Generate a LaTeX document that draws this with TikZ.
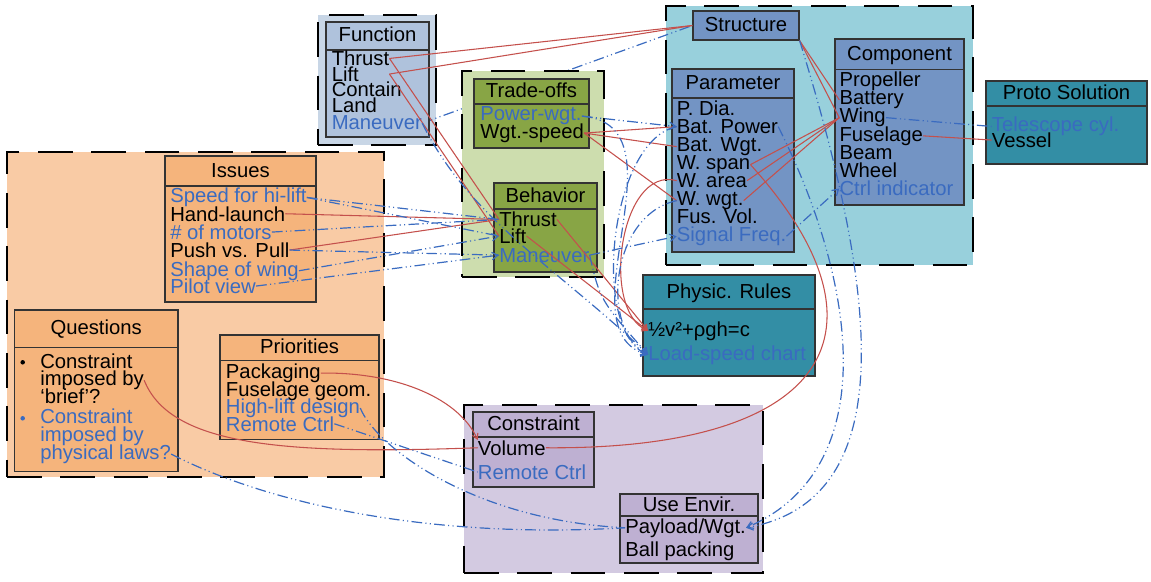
\documentclass[tikz,border=0pt]{standalone}
\usepackage{fontspec}
\setmainfont{Liberation Sans}
\usetikzlibrary{arrows.meta,fit}
\definecolor{orgBg}{HTML}{F9CBA5}
\definecolor{orgBox}{HTML}{F5B47C}
\definecolor{fnBg}{HTML}{C8D6E6}
\definecolor{fnBox}{HTML}{AFC2DC}
\definecolor{grBg}{HTML}{CDDDAE}
\definecolor{grBox}{HTML}{88A545}
\definecolor{cyBg}{HTML}{98D0DC}
\definecolor{prmBox}{HTML}{7394C4}
\definecolor{tealBox}{HTML}{338EA5}
\definecolor{lvBg}{HTML}{D3CAE1}
\definecolor{lvBox}{HTML}{BEB0D2}
\definecolor{txtBlue}{HTML}{3A6BC0}
\definecolor{relRed}{HTML}{C4504C}
\definecolor{depBlue}{HTML}{3A6BC0}
\definecolor{boxLine}{HTML}{333333}
\pgfdeclarelayer{groups}
\pgfdeclarelayer{under}
\pgfdeclarelayer{inner}
\pgfsetlayers{groups,under,inner,main}

% class box: name, x1, y1, x2, y2, header rule y, fill, title
\newcommand\classbox[8]{%
  \node[fit={(#2,#3) (#4,#5)}, inner sep=0pt, cbx, fill=#7] (#1) {};
  \draw[cbx] (#2,#6) -- (#4,#6);
  \node[ttl] (#1-t) at ({(#2+#4)/2},{(#3+#6)/2+6}) {#8};
}

\begin{document}
\begin{tikzpicture}[x=0.75pt,y=-0.75pt,
  every node/.style={font=\fontsize{15.2}{17}\selectfont},
  grp/.style={draw=black, line width=2.1pt, dash pattern=on 26pt off 14pt},
  cbx/.style={draw=boxLine, line width=0.9pt},
  ln/.style={anchor=base west, inner sep=0pt},
  lnb/.style={ln, text=txtBlue},
  ttl/.style={anchor=base, inner sep=0pt},
  rel/.style={draw=relRed, line width=0.8pt},
  dep/.style={draw=depBlue, line width=0.9pt,
    dash pattern=on 8pt off 2.5pt on 0.8pt off 2.5pt on 0.8pt off 2.5pt},
  tipB/.style={-{Straight Barb[length=4.5pt,width=5.5pt]}},
  tipR/.style={-{Straight Barb[length=4pt,width=4.5pt]}}
]
\useasboundingbox (0,0) rectangle (1151,581);

% ---------- groups ----------
\begin{pgfonlayer}{groups}
  \node[fit={(7,152) (384,477)}, inner sep=0pt, grp, fill=orgBg] (gOrg) {};
  \node[fit={(318,15) (436,145)}, inner sep=0pt, grp, fill=fnBg] (gFn) {};
  \node[fit={(666,6) (973,265)}, inner sep=0pt, grp, fill=cyBg] (gCy) {};
  \node[fit={(464,405) (763,573)}, inner sep=0pt, grp, fill=lvBg] (gLv) {};
\end{pgfonlayer}
\begin{pgfonlayer}{inner}
  \node[fit={(462,71) (604,277)}, inner sep=0pt, grp, fill=grBg] (gGr) {};
\end{pgfonlayer}

% ---------- Function ----------
\classbox{fn}{326}{22}{429}{137}{50}{fnBox}{Function}
\node[ln]  (fn-thr)  at (331.5,65.7) {Thrust};
\node[ln]  (fn-lift) at (331.5,81.3) {Lift};
\node[ln]  (fn-con)  at (331.5,97)   {Contain};
\node[ln]  (fn-land) at (331.5,113)  {Land};
\node[lnb] (fn-man)  at (331.5,130)  {Maneuver};

% ---------- Trade-offs / Behavior ----------
\classbox{to}{474}{79}{589}{148}{104}{grBox}{Trade-offs}
\node[lnb] (to-pw) at (480,121)   {Power-wgt.};
\node[ln]  (to-ws) at (480,138.3) {Wgt.-speed};

\classbox{bh}{494}{183}{597}{272}{209}{grBox}{Behavior}
\node[ln]  (bh-thr)  at (499,226.7) {Thrust};
\node[ln]  (bh-lift) at (499,243.3) {Lift};
\node[lnb] (bh-man)  at (499,262)   {Maneuver};

% ---------- Structure / Parameter / Component ----------
\node[fit={(693,11) (799,40)}, inner sep=0pt, cbx, fill=prmBox] (struct) {};
\node[ttl] (struct-t) at (746,31.5) {Structure};

\classbox{pm}{672}{69}{794}{252}{98}{prmBox}{Parameter}
\node[ln]  (pm-dia) at (676.7,115.5) {P. Dia.};
\node[ln]  (pm-bp)  at (676.7,133.5) {Bat. Power};
\node[ln]  (pm-bw)  at (676.7,151.5) {Bat. Wgt.};
\node[ln]  (pm-ws)  at (676.7,169.5) {W. span};
\node[ln]  (pm-wa)  at (676.7,187.5) {W. area};
\node[ln]  (pm-ww)  at (676.7,205.5) {W. wgt.};
\node[ln]  (pm-fv)  at (676.7,223.5) {Fus. Vol.};
\node[lnb] (pm-sf)  at (676.7,241.5) {Signal Freq.};

\classbox{cp}{835}{39}{964}{205}{69.5}{prmBox}{Component}
\node[ln]  (cp-prop)  at (839.3,86.5)  {Propeller};
\node[ln]  (cp-bat)   at (839.3,104.7) {Battery};
\node[ln]  (cp-wing)  at (839.3,122.9) {Wing};
\node[ln]  (cp-fus)   at (839.3,141.1) {Fuselage};
\node[ln]  (cp-beam)  at (839.3,159.3) {Beam};
\node[ln]  (cp-wheel) at (839.3,177.5) {Wheel};
\node[lnb] (cp-ctrl)  at (839.3,195.7) {Ctrl indicator};

% ---------- Proto Solution / Physic. Rules ----------
\classbox{ps}{986}{81}{1147}{164}{106}{tealBox}{Proto Solution}
\node[lnb] (ps-tel) at (991.7,131.7) {Telescope cyl.};
\node[ln]  (ps-ves) at (991.7,147.3) {Vessel};

\classbox{pr}{643}{275}{815}{376}{309}{tealBox}{Physic. Rules}
\node[ln]  (pr-eq) at (648,336) {½v²+ρgh=c};
\node[lnb] (pr-ls) at (648,360) {Load-speed chart};

% ---------- Constraint / Use Envir. ----------
\classbox{cs}{473}{412}{594}{487}{437}{lvBox}{Constraint}
\node[ln]  (cs-vol) at (477.7,455)   {Volume};
\node[lnb] (cs-rc)  at (477.7,479.3) {Remote Ctrl};

\classbox{ue}{620}{494}{758}{563}{516}{lvBox}{Use Envir.}
\node[ln] (ue-pw) at (625,533)   {Payload/Wgt.};
\node[ln] (ue-bp) at (625,556.7) {Ball packing};

% ---------- Issues / Questions / Priorities ----------
\classbox{is}{165}{156}{316}{302}{186}{orgBox}{Issues}
\node[lnb] (is-speed)  at (170,202.7) {Speed for hi-lift};
\node[ln]  (is-hand)   at (170,221)   {Hand-launch};
\node[lnb] (is-motors) at (170,239.3) {\# of motors};
\node[ln]  (is-push)   at (170,257.3) {Push vs. Pull};
\node[lnb] (is-shape)  at (170,276)   {Shape of wing};
\node[lnb] (is-pilot)  at (170,293.3) {Pilot view};

\classbox{qs}{14.3}{310}{178}{471.7}{347.7}{orgBox}{Questions}
\fill[black]   (22.7,362.3) circle (1.7pt);
\fill[txtBlue] (22.7,418.3) circle (1.7pt);
\node[ln]  (qs-a1) at (40,368.3) {Constraint};
\node[ln]  (qs-a2) at (40,385.5) {imposed by};
\node[ln]  (qs-a3) at (40,403.3) {‘brief’?};
\node[lnb] (qs-b1) at (40,423.3) {Constraint};
\node[lnb] (qs-b2) at (40,441)   {imposed by};
\node[lnb] (qs-b3) at (40,459.3) {physical laws?};

\classbox{pri}{220}{335}{379}{439.3}{360.7}{orgBox}{Priorities}
\node[ln]  (pri-pack) at (225.7,378.3) {Packaging};
\node[ln]  (pri-fus)  at (225.7,396)   {Fuselage geom.};
\node[lnb] (pri-hl)   at (225.7,413.3) {High-lift design};
\node[lnb] (pri-rc)   at (225.7,431)   {Remote Ctrl};

% ---------- connector hidden behind the Trade-offs group ----------
\begin{pgfonlayer}{under}
  \draw[dep] (fn-man.east) -- (struct.west);
\end{pgfonlayer}

% ---------- relations (red) ----------
\draw[rel] (fn-thr.east) -- (struct.west);
\draw[rel] (fn-lift.east -| fn-thr.east) -- (struct.west);
\draw[rel] (fn-thr.east) -- (bh-thr.west);
\draw[rel] (fn-lift.east -| fn-thr.east) -- (bh-lift.west);
\draw[rel] (is-hand.east) -- (bh-thr.west);
\draw[rel] (is-push.east) -- (bh-thr.west);
\draw[rel] (to-ws.east) -- (pm-bp.west);
\draw[rel] (to-ws.east) -- (pm-bw.west);
\draw[rel] (to-ws.east) -- (pm-ww.west);
\draw[rel,tipR] (bh-thr.east) -- (pr-eq.west);
\draw[rel,tipR] (bh-lift.east) -- (pr-eq.west);
\draw[rel,tipR] (pm-wa.west) .. controls (620,165) and (600,310) .. (pr-eq.west);
\draw[rel] (struct.south east) -- (cp-bat.west);
\draw[rel] (struct.south east) -- (cp-wing.west);
\draw[rel] (pm-ws.east) -- (cp-wing.west);
\draw[rel] (pm-wa.east) -- (cp-wing.west);
\draw[rel] (pm-ww.east) -- (cp-wing.west);
\draw[rel] (pm-ws.east) .. controls (900,330) and (830,450) .. (cs-vol.east);
\draw[rel] (cp-fus.east) -- (ps-ves.west);
\draw[rel,tipR] (pri-pack.east) .. controls (400,372) and (460,400) .. (cs-vol.north west);
\draw[rel] (qs-a2.east) .. controls (170,445) and (280,455) .. (cs-vol.west);

% ---------- dependencies (blue) ----------
\draw[dep] (is-speed.east) -- (bh-thr.west);
\draw[dep] (is-speed.east) -- (bh-lift.west);
\draw[dep] (is-motors.east) -- (bh-thr.west);
\draw[dep] (is-push.east) -- (bh-man.west);
\draw[dep,tipB] (is-shape.east) -- (bh-lift.west);
\draw[dep,tipB] (is-pilot.east) -- (bh-man.west);
\draw[dep,tipB] (to-pw.east) -- (pm-bp.west);
\draw[dep,tipB] (to-pw.east) .. controls (690,125) and (560,330) .. (pr-ls.west);
\draw[dep,tipB] (pm-bp.west) .. controls (610,140) and (590,330) .. (pr-ls.west);
\draw[dep,tipB] (pm-ww.west) .. controls (610,215) and (600,330) .. (pr-ls.west);
\draw[dep,tipB] (fn-man.east) .. controls (470,220) and (560,270) .. (pr-ls.west);
\draw[dep,tipB] (bh-man.east) .. controls (600,300) .. (pr-ls.west);
\draw[dep,tipB] (bh-man.east) -- (pm-sf.west);
\draw[dep,tipB] (pm-sf.east) -- (cp-ctrl.west);
\draw[dep] (cp-wing.east) -- (ps-tel.west);
\draw[dep,tipB] (struct.south east) .. controls (880,300) and (900,500) .. (ue-pw.east);
\draw[dep,tipB] (pm-bp.east) .. controls (860,290) and (880,470) .. (ue-pw.east);
\draw[dep] (pri-rc.east) -- (cs-rc.west);
\draw[dep] (pri-hl.east) .. controls (375,445) and (470,520) .. (ue-pw.west);
\draw[dep] (qs-b3.east) .. controls (260,500) and (420,540) .. (ue-pw.west);
\end{tikzpicture}
\end{document}
